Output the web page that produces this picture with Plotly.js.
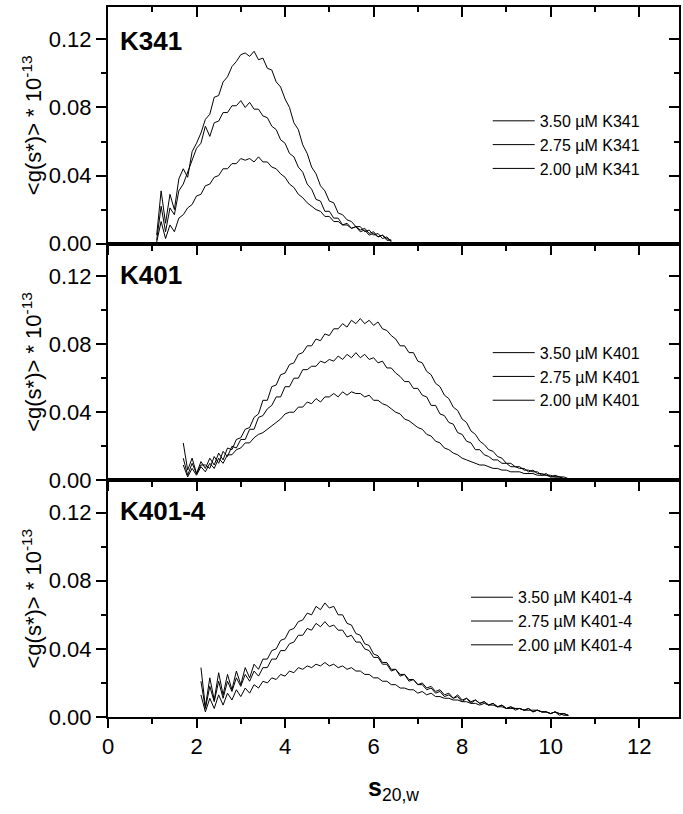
<!DOCTYPE html>
<html>
<head>
<meta charset="utf-8">
<script src="https://cdn.plot.ly/plotly-3.0.1.min.js"></script>
<style>
  html, body { margin: 0; padding: 0; background: #fff; }
  #gsChart { width: 683px; height: 814px; }
</style>
</head>
<body>
<div id="gsChart"></div>
<script>
// s-grid step used for every series (values start at the first s listed per panel)
const sStep = 0.1;

// K341 panel, s from 1.1
const k341Start = 1.1;
const k341_350 = [0.005,0.031,0.012,0.029,0.020,0.038,0.044,0.039,0.054,0.059,
  0.065,0.073,0.076,0.086,0.087,0.095,0.098,0.104,0.107,0.111,
  0.112,0.110,0.113,0.108,0.109,0.103,0.102,0.095,0.092,0.085,
  0.080,0.071,0.067,0.058,0.053,0.045,0.041,0.034,0.031,0.025,
  0.024,0.018,0.017,0.014,0.013,0.010,0.010,0.007,0.008,0.005,
  0.006,0.003,0.004,0.001];
const k341_275 = [0.002,0.022,0.007,0.021,0.017,0.031,0.035,0.042,0.049,0.056,
  0.059,0.069,0.063,0.071,0.072,0.077,0.077,0.081,0.081,0.084,
  0.080,0.083,0.079,0.079,0.075,0.074,0.069,0.067,0.061,0.059,
  0.053,0.051,0.045,0.042,0.035,0.032,0.026,0.025,0.019,0.019,
  0.015,0.015,0.011,0.012,0.009,0.010,0.007,0.008,0.005,0.006,
  0.004,0.005,0.002,0.002];
const k341_200 = [0.001,0.013,0.003,0.011,0.007,0.015,0.017,0.021,0.023,0.028,
  0.029,0.034,0.035,0.039,0.040,0.044,0.044,0.047,0.047,0.050,
  0.049,0.050,0.048,0.051,0.048,0.048,0.045,0.044,0.041,0.039,
  0.035,0.033,0.029,0.027,0.024,0.022,0.020,0.019,0.016,0.016,
  0.013,0.013,0.011,0.011,0.009,0.010,0.008,0.009,0.006,0.007,
  0.004,0.005,0.003,0.002];

// K401 panel, s from 1.7
const k401Start = 1.7;
const k401_350 = [0.022,0.006,0.013,0.004,0.011,0.007,0.013,0.009,0.016,0.012,
  0.019,0.018,0.024,0.025,0.030,0.031,0.037,0.039,0.047,0.047,
  0.055,0.056,0.062,0.063,0.068,0.069,0.074,0.075,0.079,0.079,
  0.083,0.082,0.086,0.085,0.089,0.089,0.092,0.090,0.094,0.092,
  0.095,0.092,0.094,0.091,0.093,0.089,0.088,0.085,0.083,0.079,
  0.079,0.075,0.075,0.070,0.069,0.064,0.062,0.057,0.055,0.050,
  0.048,0.043,0.041,0.036,0.034,0.029,0.027,0.023,0.021,0.018,
  0.017,0.014,0.013,0.010,0.010,0.008,0.008,0.006,0.006,0.005,
  0.005,0.003,0.004,0.002,0.003,0.002,0.002,0.001];
const k401_275 = [0.013,0.003,0.010,0.004,0.009,0.009,0.007,0.014,0.010,0.017,
  0.014,0.020,0.019,0.024,0.024,0.030,0.030,0.037,0.038,0.042,
  0.044,0.049,0.049,0.055,0.055,0.060,0.060,0.065,0.065,0.067,
  0.067,0.070,0.069,0.071,0.070,0.073,0.071,0.074,0.072,0.075,
  0.072,0.074,0.071,0.072,0.069,0.070,0.066,0.066,0.063,0.061,
  0.058,0.058,0.054,0.054,0.050,0.049,0.044,0.044,0.039,0.038,
  0.034,0.033,0.028,0.027,0.023,0.022,0.018,0.018,0.015,0.014,
  0.012,0.012,0.010,0.010,0.008,0.008,0.007,0.007,0.005,0.006,
  0.004,0.004,0.003,0.003,0.002,0.002,0.001,0.001];
const k401_200 = [0.009,0.002,0.007,0.003,0.008,0.005,0.010,0.007,0.013,0.010,
  0.015,0.015,0.018,0.019,0.022,0.022,0.025,0.027,0.028,0.030,
  0.032,0.034,0.036,0.039,0.040,0.040,0.043,0.043,0.046,0.045,
  0.048,0.046,0.049,0.049,0.051,0.049,0.052,0.050,0.052,0.051,
  0.051,0.049,0.050,0.047,0.047,0.045,0.044,0.042,0.040,0.039,
  0.036,0.035,0.033,0.031,0.030,0.027,0.026,0.023,0.022,0.019,
  0.018,0.016,0.015,0.013,0.012,0.011,0.010,0.009,0.009,0.008,
  0.007,0.007,0.006,0.006,0.005,0.005,0.005,0.004,0.004,0.004,
  0.003,0.003,0.003,0.002,0.002,0.002,0.001,0.001];

// K401-4 panel, s from 2.1
const k4014Start = 2.1;
const k4014_350 = [0.029,0.006,0.023,0.010,0.026,0.013,0.025,0.016,0.027,0.019,
  0.029,0.023,0.031,0.028,0.034,0.034,0.039,0.040,0.045,0.046,
  0.051,0.052,0.056,0.057,0.061,0.060,0.065,0.063,0.067,0.064,
  0.065,0.060,0.060,0.055,0.054,0.049,0.048,0.043,0.042,0.037,
  0.036,0.032,0.032,0.028,0.028,0.025,0.025,0.022,0.022,0.019,
  0.020,0.017,0.018,0.015,0.016,0.013,0.014,0.011,0.013,0.010,
  0.011,0.009,0.010,0.008,0.009,0.007,0.008,0.006,0.007,0.005,
  0.006,0.005,0.005,0.004,0.005,0.003,0.004,0.003,0.003,0.002,
  0.003,0.002,0.002,0.001];
const k4014_275 = [0.021,0.005,0.018,0.009,0.021,0.011,0.021,0.015,0.023,0.018,
  0.025,0.021,0.027,0.024,0.029,0.029,0.034,0.034,0.039,0.039,
  0.043,0.044,0.048,0.048,0.052,0.051,0.055,0.053,0.056,0.053,
  0.054,0.051,0.051,0.047,0.048,0.044,0.044,0.040,0.039,0.035,
  0.035,0.031,0.031,0.027,0.028,0.024,0.025,0.021,0.022,0.019,
  0.019,0.016,0.017,0.014,0.015,0.012,0.013,0.011,0.012,0.009,
  0.011,0.008,0.010,0.008,0.009,0.007,0.008,0.006,0.007,0.005,
  0.006,0.004,0.005,0.004,0.005,0.003,0.004,0.003,0.003,0.002,
  0.003,0.001,0.002,0.001];
const k4014_200 = [0.013,0.003,0.011,0.005,0.013,0.007,0.014,0.010,0.016,0.012,
  0.017,0.014,0.019,0.017,0.021,0.020,0.023,0.022,0.025,0.024,
  0.027,0.026,0.029,0.028,0.030,0.029,0.031,0.030,0.032,0.030,
  0.031,0.029,0.030,0.028,0.029,0.027,0.027,0.025,0.025,0.023,
  0.023,0.021,0.021,0.019,0.019,0.017,0.017,0.016,0.016,0.014,
  0.015,0.013,0.014,0.012,0.012,0.011,0.011,0.010,0.010,0.009,
  0.009,0.008,0.008,0.007,0.008,0.007,0.007,0.006,0.006,0.005,
  0.005,0.005,0.005,0.004,0.004,0.004,0.004,0.003,0.003,0.002,
  0.003,0.002,0.001,0.001];

const concLabels = ['3.50 \u00b5M', '2.75 \u00b5M', '2.00 \u00b5M'];
const panelNames = ['K341', 'K401', 'K401-4'];

const panels = [
  { name: panelNames[0], start: k341Start, series: [k341_350, k341_275, k341_200] },
  { name: panelNames[1], start: k401Start, series: [k401_350, k401_275, k401_200] },
  { name: panelNames[2], start: k4014Start, series: [k4014_350, k4014_275, k4014_200] }
];

const FONT = 'Arial, "Liberation Sans", sans-serif';

function sGrid(start, vals) {
  return vals.map((_, i) => +(start + i * sStep).toFixed(2));
}

const traces = [];
panels.forEach((p, k) => {
  const ax = k === 0 ? '' : String(k + 1);
  const legendId = k === 0 ? 'legend' : 'legend' + (k + 1);
  p.series.forEach((vals, i) => {
    traces.push({
      x: sGrid(p.start, vals),
      y: vals,
      type: 'scatter',
      mode: 'lines',
      name: concLabels[i] + ' ' + p.name,
      line: { color: 'black', width: 1 },
      xaxis: 'x' + ax,
      yaxis: 'y' + ax,
      legend: legendId
    });
  });
  // empty traces so the inward top / right tick axes get drawn
  traces.push({ x: [], y: [], xaxis: 'x' + (k + 4), yaxis: 'y' + ax, showlegend: false, hoverinfo: 'skip' });
  traces.push({ x: [], y: [], xaxis: 'x' + ax, yaxis: 'y' + (k + 4), showlegend: false, hoverinfo: 'skip' });
});

const xRange = [0, 12.9];
const yRange = [0, 0.139];

function xMain(anchor, labels) {
  return {
    anchor: anchor, range: xRange, dtick: 2, tick0: 0,
    ticks: 'outside', ticklen: 9, tickwidth: 2, tickcolor: 'black',
    minor: { ticks: 'outside', ticklen: 5, tickwidth: 2, tickcolor: 'black', dtick: 1, showgrid: false },
    showline: true, linewidth: 2, linecolor: 'black', mirror: true,
    showgrid: false, zeroline: false, showticklabels: labels,
    tickfont: { family: FONT, size: 22, color: 'black' }
  };
}
function xTop(base, anchor) {
  return {
    overlaying: base, anchor: anchor, side: 'top', range: xRange, dtick: 2, tick0: 0,
    ticks: 'inside', ticklen: 10, tickwidth: 2, tickcolor: 'black',
    minor: { ticks: 'inside', ticklen: 5, tickwidth: 2, tickcolor: 'black', dtick: 1, showgrid: false },
    showline: false, showgrid: false, zeroline: false, showticklabels: false
  };
}
function yMain(domain, anchor) {
  return {
    domain: domain, anchor: anchor, range: yRange, dtick: 0.04, tick0: 0, tickformat: '.2f',
    ticks: 'outside', ticklen: 10, tickwidth: 2, tickcolor: 'black',
    minor: { ticks: 'outside', ticklen: 5, tickwidth: 2, tickcolor: 'black', dtick: 0.02, showgrid: false },
    showline: true, linewidth: 2, linecolor: 'black', mirror: true,
    showgrid: false, zeroline: false,
    tickfont: { family: FONT, size: 22, color: 'black' },
    title: { text: '<g(s*)> * 10<sup>-13</sup>', font: { family: FONT, size: 22, color: 'black' }, standoff: 1 }
  };
}
function yRight(base, anchor) {
  return {
    overlaying: base, anchor: anchor, side: 'right', range: yRange, dtick: 0.04, tick0: 0,
    ticks: 'inside', ticklen: 10, tickwidth: 2, tickcolor: 'black',
    minor: { ticks: 'inside', ticklen: 5, tickwidth: 2, tickcolor: 'black', dtick: 0.02, showgrid: false },
    showline: false, showgrid: false, zeroline: false, showticklabels: false
  };
}

function legendAt(x, y) {
  return {
    x: x, y: y, xanchor: 'left', yanchor: 'top', xref: 'paper', yref: 'paper',
    bgcolor: 'rgba(0,0,0,0)', borderwidth: 0, itemwidth: 42,
    font: { family: FONT, size: 16, color: 'black' }
  };
}

const xBottom = xMain('y3', true);
xBottom.title = { text: '<b>s</b><sub>20,w</sub>', font: { family: FONT, size: 25, color: 'black' }, standoff: 20 };

const layout = {
  width: 683, height: 814,
  margin: { l: 108, r: 4, t: 7, b: 97 },
  paper_bgcolor: 'white', plot_bgcolor: 'white',
  font: { family: FONT, color: 'black' },
  xaxis: xMain('y', false),
  xaxis2: xMain('y2', false),
  xaxis3: xBottom,
  xaxis4: xTop('x', 'y'),
  xaxis5: xTop('x2', 'y2'),
  xaxis6: xTop('x3', 'y3'),
  yaxis: yMain([2 / 3, 1], 'x'),
  yaxis2: yMain([1 / 3, 2 / 3], 'x2'),
  yaxis3: yMain([0, 1 / 3], 'x3'),
  yaxis4: yRight('y', 'x'),
  yaxis5: yRight('y2', 'x2'),
  yaxis6: yRight('y3', 'x3'),
  legend: legendAt(0.665, 0.8635),
  legend2: legendAt(0.665, 0.537),
  legend3: legendAt(0.627, 0.1925),
  annotations: [
    { text: panelNames[0], x: 0.0175, y: 0.952 },
    { text: panelNames[1], x: 0.0175, y: 0.6225 },
    { text: panelNames[2], x: 0.0175, y: 0.290 }
  ].map(a => Object.assign(a, {
    xref: 'paper', yref: 'paper', xanchor: 'left', yanchor: 'middle', showarrow: false,
    font: { family: FONT, size: 26, color: 'black', weight: 'bold' }
  })),
  showlegend: true
};

Plotly.newPlot('gsChart', traces, layout, { displayModeBar: false, staticPlot: true });
</script>
</body>
</html>
